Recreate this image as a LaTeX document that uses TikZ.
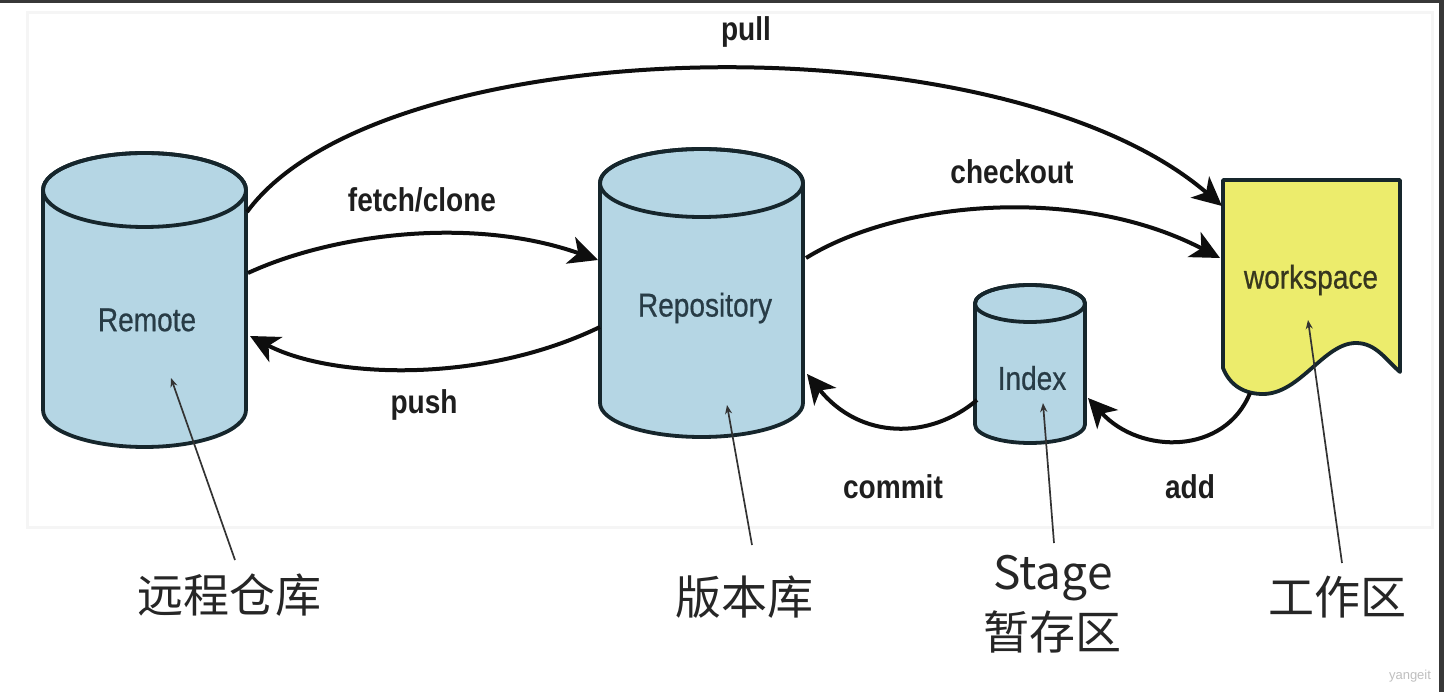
\documentclass[tikz,border=0pt]{standalone}
\usepackage{fontspec}
\usetikzlibrary{arrows.meta}
\newfontfamily\labb{Liberation Sans Bold}[FakeStretch=0.85]
\newfontfamily\labr{Liberation Sans}[FakeStretch=0.85,FakeBold=0.6]
\newfontfamily\wmfont{Liberation Sans}
\newfontfamily\cjk{Noto Sans CJK SC}
\definecolor{cylfill}{RGB}{181,214,228}
\definecolor{outl}{RGB}{22,38,44}
\definecolor{wsfill}{RGB}{236,236,108}
\definecolor{arrowc}{RGB}{14,14,14}
\definecolor{innerc}{RGB}{40,60,70}
\definecolor{wstext}{RGB}{55,55,30}
\definecolor{labc}{RGB}{30,30,30}
\tikzset{
  cylbody/.style={fill=cylfill, draw=outl, line width=3.8pt, line join=round},
  conn/.style={line width=4pt, draw=arrowc, -{Stealth[length=29pt,width=28pt,inset=8pt]}},
  ptr/.style={line width=1.7pt, draw=black!80, -{Stealth[length=9pt,width=7pt]}},
  lab/.style={font=\labb\fontsize{33}{36}\selectfont, text=labc, inner sep=0pt},
  inlab/.style={font=\labr\fontsize{33}{36}\selectfont, text=innerc, inner sep=0pt},
  cn/.style={font=\cjk\fontsize{46}{50}\selectfont, text=black!85, inner sep=0pt},
}
% cylinder: cx, top centre y, rx, ry, bottom centre y
\newcommand\dbcyl[5]{%
  \path[cylbody] (#1-#3,#2) -- (#1-#3,#5) arc[start angle=180,end angle=360,x radius=#3pt,y radius=#4pt]
     -- (#1+#3,#2) arc[start angle=0,end angle=180,x radius=#3pt,y radius=#4pt] -- cycle;
  \draw[line width=3.8pt, draw=outl] (#1,#2) ellipse [x radius=#3pt, y radius=#4pt];
}
\begin{document}
\begin{tikzpicture}[x=1pt,y=1pt]
\useasboundingbox (0,0) rectangle (1444,-692);
\fill[white] (0,0) rectangle (1444,-692);
\draw[black!4, line width=3pt] (27,-13) rectangle (1432,-527);
\fill[black!78] (0,0) rectangle (1444,-3.5);
\fill[black!78] (1439,0) rectangle (1444,-692);

% cylinders
\dbcyl{144.5}{-190}{101.5}{37}{-410}
\dbcyl{701.5}{-183}{101.5}{34}{-403}
\dbcyl{1030}{-303.5}{55}{18.5}{-424.5}

% workspace
\path[fill=wsfill, draw=outl, line width=3.8pt, line join=round]
  (1223,-180) -- (1400,-180) -- (1400,-372)
  .. controls (1386,-360) and (1376,-343) .. (1356,-343)
  .. controls (1324,-343) and (1300,-394) .. (1263,-394)
  .. controls (1245,-394) and (1230,-386) .. (1223,-368) -- cycle;

% node labels
\node[inlab] (remote) at (147,-320) {Remote};
\node[inlab] (repo) at (705,-308) {Repository};
\node[inlab] (index) at (1032,-378) {Index};
\node[inlab, text=wstext] (ws) at (1311,-280) {workspace};

% connector end points
\coordinate (rmA) at (247,-212);
\coordinate (rmB) at (248,-273);
\coordinate (rmC) at (250,-336);
\coordinate (rpA) at (598,-260);
\coordinate (rpB) at (600,-327);
\coordinate (rpC) at (806,-258);
\coordinate (rpD) at (807,-374);
\coordinate (wsA) at (1222,-206);
\coordinate (wsB) at (1220,-258);
\coordinate (wsC) at (1250,-393);
\coordinate (ixA) at (977,-400);
\coordinate (ixB) at (1088,-398);

% connectors
\draw[conn] (rmA) .. controls (380,-30) and (1000,-15) .. (wsA);
\draw[conn] (rmB) .. controls (330,-235) and (470,-215) .. (rpA);
\draw[conn] (rpB) .. controls (480,-385) and (330,-378) .. (rmC);
\draw[conn] (rpC) .. controls (900,-200) and (1080,-185) .. (wsB);
\draw[conn] (ixA) .. controls (930,-440) and (860,-440) .. (rpD);
\draw[conn] (wsC) .. controls (1225,-455) and (1140,-455) .. (ixB);

% connector labels
\node[lab] (lpull) at (746,-32) {pull};
\node[lab] (lfetch) at (422,-200) {fetch/clone};
\node[lab] (lpush) at (424,-405) {push};
\node[lab] (lcheck) at (1012,-172) {checkout};
\node[lab] (lcommit) at (893,-487) {commit};
\node[lab] (ladd) at (1190,-487) {add};

% bottom labels
\node[cn] (cremote) at (229,-595) {远程仓库};
\node[cn] (crepo) at (744,-597) {版本库};
\node[cn] (cstage) at (1053,-578) {Stage};
\node[cn] (cstage2) at (1052,-632) {暂存区};
\node[cn] (cws) at (1337,-597) {工作区};

% pointer lines
\coordinate (p1a) at (235,-560);
\coordinate (p1b) at (171,-378);
\coordinate (p2a) at (752,-545);
\coordinate (p2b) at (727,-405);
\coordinate (p3a) at (1054,-543);
\coordinate (p3b) at (1043,-403);
\coordinate (p4a) at (1342,-563);
\coordinate (p4b) at (1308,-320);
\draw[ptr] (p1a) -- (p1b);
\draw[ptr] (p2a) -- (p2b);
\draw[ptr] (p3a) -- (p3b);
\draw[ptr] (p4a) -- (p4b);

\node[font=\wmfont\fontsize{13}{14}\selectfont, text=black!25, inner sep=0pt] (wm) at (1410,-676) {yangeit};
\end{tikzpicture}
\end{document}
